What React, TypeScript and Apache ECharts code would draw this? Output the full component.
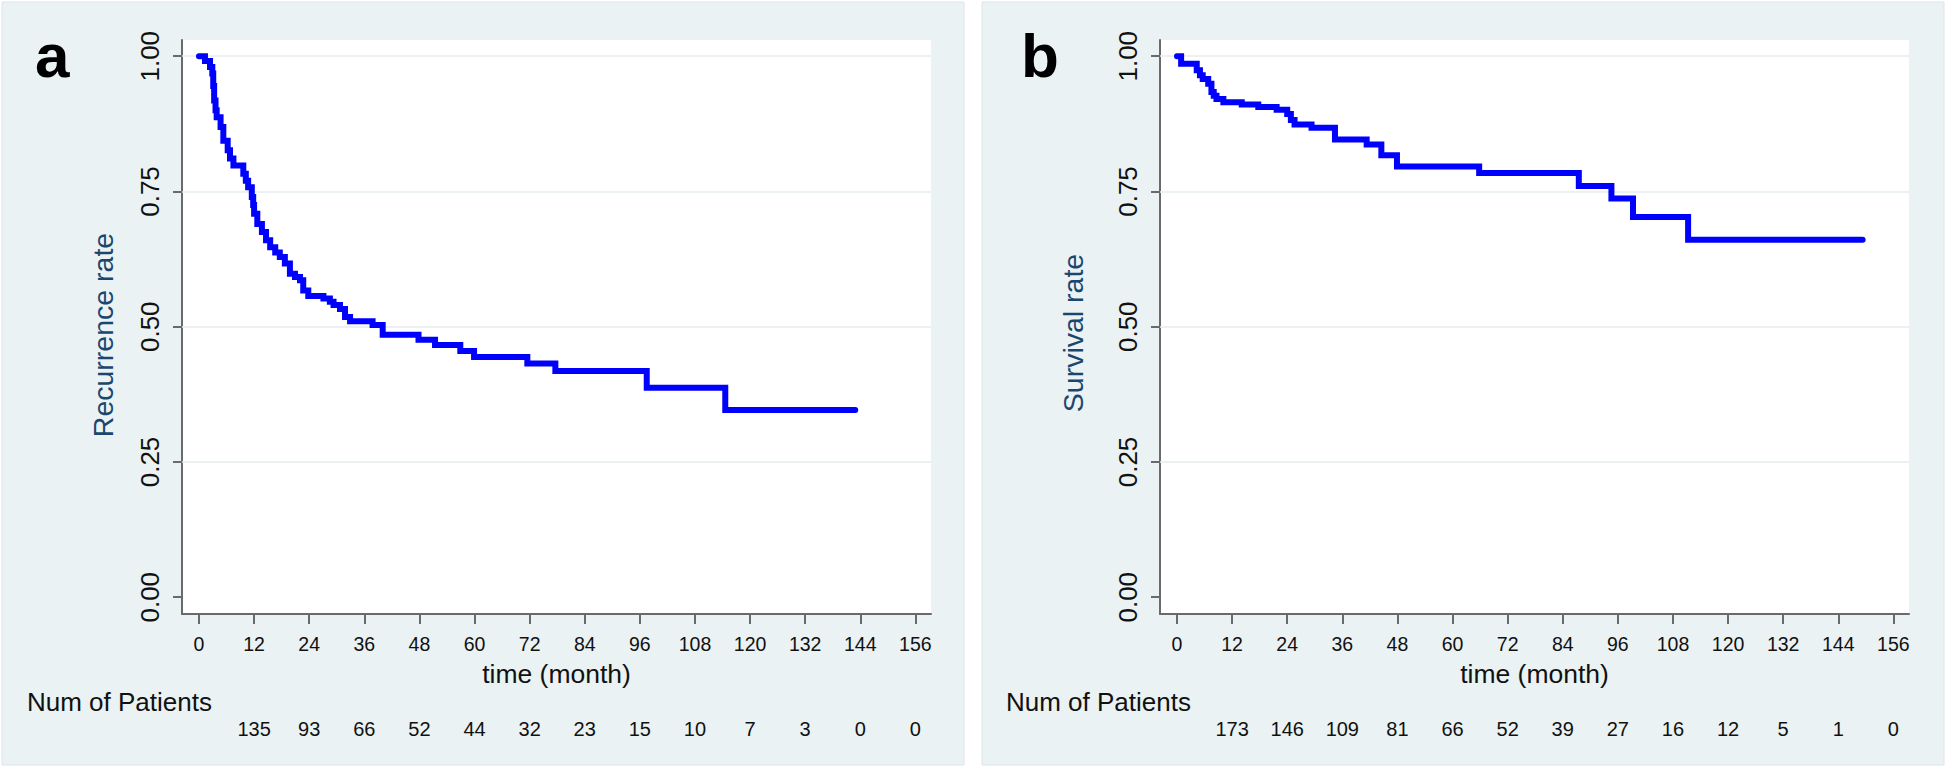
import React, { useEffect, useRef } from "react";
import * as echarts from "echarts";

// ---------- data ----------
const xTicks = [0, 12, 24, 36, 48, 60, 72, 84, 96, 108, 120, 132, 144, 156];
const yTicks = [0, 0.25, 0.5, 0.75, 1];
const yGridValues = [0.25, 0.5, 0.75, 1];

// Panel a: recurrence (Kaplan-Meier steps: time of drop, value after drop)
const recurTime = [
  0, 1.3, 2.4, 2.9, 3.1, 3.3, 3.6, 3.85, 4.7, 5.3, 6.25, 6.75, 7.5, 9.65, 10.2, 10.7, 11.5, 11.8,
  12.0, 12.7, 13.7, 14.6, 15.5, 16.6, 17.6, 18.7, 19.8, 20.9, 22.0, 22.7, 23.8, 27.1, 28.5, 29.3,
  30.7, 31.8, 32.9, 37.8, 40.0, 47.8, 51.4, 56.9, 59.9, 71.5, 77.6, 97.5, 114.6, 142.9,
];
const recurRate = [
  1.0, 0.991, 0.98, 0.968, 0.945, 0.918, 0.9, 0.887, 0.869, 0.844, 0.826, 0.811, 0.798, 0.783, 0.77,
  0.758, 0.74, 0.725, 0.709, 0.69, 0.675, 0.66, 0.647, 0.637, 0.629, 0.617, 0.598, 0.592, 0.586,
  0.567, 0.557, 0.552, 0.546, 0.54, 0.533, 0.518, 0.51, 0.503, 0.485, 0.476, 0.466, 0.455, 0.444,
  0.432, 0.418, 0.387, 0.346, 0.346,
];

// Panel b: survival
const survTime = [
  0, 0.9, 4.3, 5.0, 5.6, 6.8, 7.5, 8.0, 8.6, 10.1, 14.1, 17.7, 21.7, 24.0, 24.8, 25.6, 29.3, 34.4,
  41.3, 44.5, 47.9, 65.8, 87.5, 94.6, 99.3, 111.3, 149.3,
];
const survRate = [
  1.0, 0.986, 0.974, 0.965, 0.958, 0.949, 0.934, 0.927, 0.921, 0.915, 0.911, 0.906, 0.901, 0.893,
  0.882, 0.874, 0.868, 0.846, 0.837, 0.817, 0.796, 0.784, 0.76, 0.737, 0.703, 0.661, 0.661,
];

// Number at risk
const riskTimes = [12, 24, 36, 48, 60, 72, 84, 96, 108, 120, 132, 144, 156];
const recurAtRisk = [135, 93, 66, 52, 44, 32, 23, 15, 10, 7, 3, 0, 0];
const survAtRisk = [173, 146, 109, 81, 66, 52, 39, 27, 16, 12, 5, 1, 0];

// ---------- styling / layout ----------
const FONT = "'Liberation Sans', Arial, Helvetica, sans-serif";
const PANEL_BG = "#EAF2F3";
const AXIS_COLOR = "#6a6a6a";
const GRID_COLOR = "#e4ecef";
const TEXT_COLOR = "#111111";
const TITLE_BLUE = "#1a476f";
const CURVE_BLUE = "#0000ff";

const X_MIN = -3.7;
const X_MAX = 159.4;
const Y_MIN = -0.031;
const Y_MAX = 1.03;

const panels = [
  {
    letter: "a",
    yTitle: "Recurrence rate",
    times: recurTime,
    values: recurRate,
    risk: recurAtRisk,
    gridLeft: 182,
    bgX: 2,
    letterX: 35,
    titleX: 102.6,
    titleY: 335,
    riskTitleX: 27,
  },
  {
    letter: "b",
    yTitle: "Survival rate",
    times: survTime,
    values: survRate,
    risk: survAtRisk,
    gridLeft: 1160,
    bgX: 982,
    letterX: 1021,
    titleX: 1072.5,
    titleY: 333,
    riskTitleX: 1006,
  },
];

function buildOption() {
  const grid: any[] = [];
  const xAxis: any[] = [];
  const yAxis: any[] = [];
  const series: any[] = [];
  const graphic: any[] = [];

  panels.forEach((p, i) => {
    graphic.push({
      type: "rect",
      z: -10,
      shape: { x: p.bgX, y: 2, width: 962, height: 763 },
      style: { fill: PANEL_BG, stroke: "#dde5e8", lineWidth: 1 },
      silent: true,
    });
    graphic.push({
      type: "text",
      x: p.letterX,
      y: 55.5,
      style: {
        text: p.letter,
        font: `bold 62px ${FONT}`,
        fill: "#000",
        align: "left",
        verticalAlign: "middle",
      },
    });
    graphic.push({
      type: "text",
      x: p.titleX,
      y: p.titleY,
      rotation: Math.PI / 2,
      style: {
        text: p.yTitle,
        font: `28.5px ${FONT}`,
        fill: TITLE_BLUE,
        align: "center",
        verticalAlign: "middle",
      },
    });
    graphic.push({
      type: "text",
      x: p.riskTitleX,
      y: 702,
      style: {
        text: "Num of Patients",
        font: `26px ${FONT}`,
        fill: TEXT_COLOR,
        align: "left",
        verticalAlign: "middle",
      },
    });

    grid.push({
      left: p.gridLeft,
      top: 40,
      width: 749,
      height: 574,
      show: true,
      backgroundColor: "#ffffff",
      borderWidth: 0,
    });

    // main time axis
    xAxis.push({
      gridIndex: i,
      type: "value",
      min: X_MIN,
      max: X_MAX,
      position: "bottom",
      name: "time (month)",
      nameLocation: "middle",
      nameGap: 46,
      nameTextStyle: { fontFamily: FONT, fontSize: 26.5, color: TEXT_COLOR },
      axisLine: { show: true, onZero: false, lineStyle: { color: AXIS_COLOR, width: 2 } },
      axisTick: {
        show: true,
        customValues: xTicks,
        length: 10,
        lineStyle: { color: AXIS_COLOR, width: 2 },
      },
      axisLabel: {
        show: true,
        customValues: xTicks,
        margin: 20,
        fontFamily: FONT,
        fontSize: 19.5,
        color: TEXT_COLOR,
        formatter: (v: number) => String(Math.round(v)),
      },
      splitLine: { show: false },
    });

    // number at risk row (as a label-only axis)
    const risk = p.risk;
    xAxis.push({
      gridIndex: i,
      type: "value",
      min: X_MIN,
      max: X_MAX,
      position: "bottom",
      offset: 97,
      axisLine: { show: false },
      axisTick: { show: false },
      axisLabel: {
        show: true,
        customValues: riskTimes,
        margin: 8,
        fontFamily: FONT,
        fontSize: 20,
        color: TEXT_COLOR,
        formatter: (v: number) => {
          const k = riskTimes.indexOf(Math.round(v));
          return k >= 0 ? String(risk[k]) : "";
        },
      },
      splitLine: { show: false },
    });

    yAxis.push({
      gridIndex: i,
      type: "value",
      min: Y_MIN,
      max: Y_MAX,
      axisLine: { show: true, onZero: false, lineStyle: { color: AXIS_COLOR, width: 2 } },
      axisTick: {
        show: true,
        customValues: yTicks,
        length: 9,
        lineStyle: { color: AXIS_COLOR, width: 2 },
      },
      axisLabel: {
        show: true,
        customValues: yTicks,
        rotate: 90,
        margin: 19,
        fontFamily: FONT,
        fontSize: 26,
        color: TEXT_COLOR,
        formatter: (v: number) => v.toFixed(2),
      },
      splitLine: { show: false },
    });

    // gridlines (behind the curve)
    series.push({
      type: "line",
      xAxisIndex: 2 * i,
      yAxisIndex: i,
      data: [],
      z: 1,
      silent: true,
      markLine: {
        silent: true,
        symbol: "none",
        label: { show: false },
        lineStyle: { color: GRID_COLOR, width: 1.5, type: "solid" },
        data: yGridValues.map((v) => ({ yAxis: v })),
      },
    });

    series.push({
      type: "line",
      xAxisIndex: 2 * i,
      yAxisIndex: i,
      step: "end",
      z: 5,
      symbol: "none",
      showSymbol: false,
      lineStyle: { color: CURVE_BLUE, width: 6, cap: "round", join: "miter" },
      data: p.times.map((t, k) => [t, p.values[k]]),
    });
  });

  return {
    animation: false,
    backgroundColor: "#ffffff",
    textStyle: { fontFamily: FONT },
    grid,
    xAxis,
    yAxis,
    series,
    graphic,
  };
}

export default function App() {
  const ref = useRef<HTMLDivElement>(null);
  useEffect(() => {
    if (!ref.current) return;
    const chart = echarts.init(ref.current, null, { renderer: "svg", width: 1946, height: 772 });
    chart.setOption(buildOption() as any);
    return () => chart.dispose();
  }, []);
  return (
    <div
      ref={ref}
      style={{ position: "fixed", left: 0, top: 0, width: 1946, height: 772, background: "#fff" }}
    />
  );
}
